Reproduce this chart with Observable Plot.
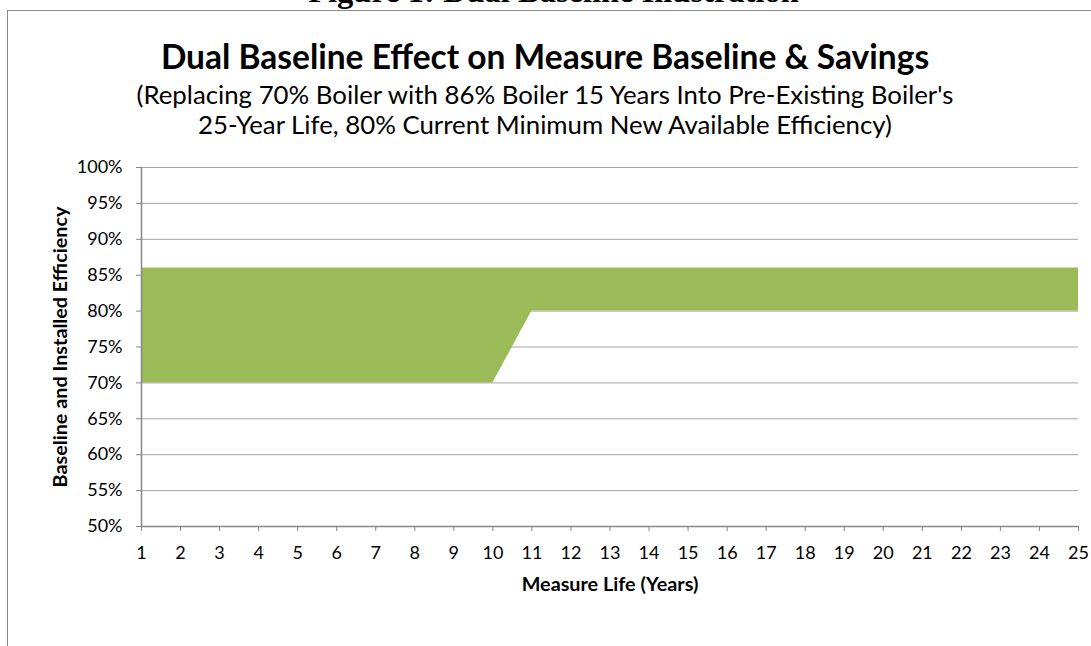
<!DOCTYPE html>
<html>
<head>
<meta charset="utf-8">
<script src="https://cdn.jsdelivr.net/npm/d3@7"></script>
<script src="https://cdn.jsdelivr.net/npm/@observablehq/plot@0.6"></script>
<style>
  html, body { margin: 0; padding: 0; background: white; overflow: hidden; }
  #wrap { position: relative; width: 1091px; height: 646px; overflow: hidden; }
  .t { position: absolute; white-space: nowrap; }
  #caption { left: 0; width: 1107px; text-align: center; top: -25px; font: bold 32.5px "Liberation Serif", serif; line-height: 32.5px; }
  #frame { position: absolute; left: 7px; top: 10px; width: 1200px; height: 800px; border: 1.5px solid #8a8a8a; box-sizing: border-box; }
  #title { left: 0; width: 1090px; text-align: center; top: 40px; font: bold 33.5px Lato, sans-serif; line-height: 33.5px; }
  #sub1 { left: 0; width: 1090px; text-align: center; top: 82px; font: 25.8px Lato, sans-serif; line-height: 25.8px; }
  #sub2 { left: 0; width: 1090px; text-align: center; top: 112px; font: 25.8px Lato, sans-serif; line-height: 25.8px; }
  #plot { position: absolute; left: 0; top: 140px; }
</style>
</head>
<body>
<div id="wrap">
  <div id="frame"></div>
  <div class="t" id="caption">Figure 1:  Dual Baseline Illustration</div>
  <div class="t" id="title">Dual Baseline Effect on Measure Baseline &amp; Savings</div>
  <div class="t" id="sub1">(Replacing 70% Boiler with 86% Boiler 15 Years Into Pre-Existing Boiler's</div>
  <div class="t" id="sub2">25-Year Life, 80% Current Minimum New Available Efficiency)</div>
  <div id="plot"></div>
</div>
<script>
const years = [1,2,3,4,5,6,7,8,9,10,11,12,13,14,15,16,17,18,19,20,21,22,23,24,25];
const installed = [0.86,0.86,0.86,0.86,0.86,0.86,0.86,0.86,0.86,0.86,0.86,0.86,0.86,0.86,0.86,0.86,0.86,0.86,0.86,0.86,0.86,0.86,0.86,0.86,0.86];
const baseline = [0.70,0.70,0.70,0.70,0.70,0.70,0.70,0.70,0.70,0.70,0.80,0.80,0.80,0.80,0.80,0.80,0.80,0.80,0.80,0.80,0.80,0.80,0.80,0.80,0.80];
const yTicks = [0.50,0.55,0.60,0.65,0.70,0.75,0.80,0.85,0.90,0.95,1.00];
const xTicks = years;
const xTitle = "Measure Life (Years)";
const yTitle = "Baseline and Installed Efficiency";

const data = years.map((y, i) => ({year: y, installed: installed[i], baseline: baseline[i]}));

const chart = Plot.plot({
  width: 1091,
  height: 506,
  marginLeft: 141,
  marginRight: 13,
  marginTop: 27,
  marginBottom: 120,
  style: {background: "transparent", fontFamily: "Lato, sans-serif", fontSize: "18px", color: "black", overflow: "visible"},
  x: {domain: [1, 25], axis: null},
  y: {domain: [0.5, 1.0], axis: null},
  marks: [
    Plot.gridY(yTicks, {stroke: "#a3a3a3", strokeOpacity: 1, strokeWidth: 1}),
    Plot.areaY(data, {x: "year", y1: "baseline", y2: "installed", fill: "#9BBB59", curve: "linear"}),
    Plot.ruleY([0.5], {stroke: "#878787", strokeWidth: 1.5}),
    Plot.ruleX([1], {stroke: "#878787", strokeWidth: 1.5}),
    Plot.axisY({ticks: yTicks, tickFormat: d3.format(".0%"), tickSize: 5, tickPadding: 14, stroke: "#878787", fill: "black", label: null}),
    Plot.axisX({ticks: xTicks, tickFormat: d => String(d), tickSize: 5, tickPadding: 15, stroke: "#878787", fill: "black", label: null}),
    Plot.text([yTitle], {frameAnchor: "left", dx: -81, rotate: -90, text: d => d, textAnchor: "middle", lineAnchor: "middle", fontWeight: "bold", fontSize: 19.8, fill: "black"}),
    Plot.text([xTitle], {frameAnchor: "bottom", dy: 58, text: d => d, textAnchor: "middle", lineAnchor: "middle", fontWeight: "bold", fontSize: 19.8, fill: "black"})
  ]
});
document.getElementById("plot").appendChild(chart);
</script>
</body>
</html>
